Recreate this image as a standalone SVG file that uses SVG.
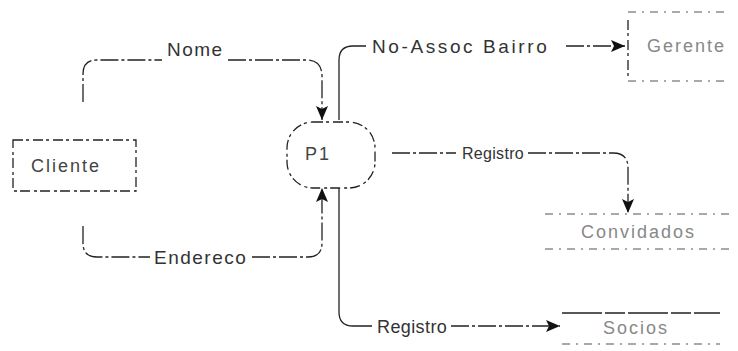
<svg xmlns="http://www.w3.org/2000/svg" width="738" height="351" viewBox="0 0 738 351">
<style>
  .bg{fill:#fff}
  .box{fill:none;stroke:#222;stroke-width:1.3;stroke-dasharray:10 3 3 4}
  .faint{fill:none;stroke:#555;stroke-width:1.2;stroke-dasharray:8 6 2 6}
  .solid{fill:none;stroke:#222;stroke-width:1.3}
  .flow{fill:none;stroke:#222;stroke-width:1.3;stroke-dasharray:18 3 3 3}
  .lbl{font-family:"Liberation Sans",Arial,sans-serif;font-size:19px;fill:#333;letter-spacing:1.5px}
  .nlbl{font-family:"Liberation Sans",Arial,sans-serif;font-size:18px;fill:#444;letter-spacing:2px}
  .pale{fill:#888}
</style>
<defs>
  <marker id="ah" viewBox="0 0 14 12" refX="14" refY="6" markerWidth="14" markerHeight="12" markerUnits="userSpaceOnUse" orient="auto">
    <path d="M0,0 L14,6 L0,12 L3,6 z" fill="#111"/>
  </marker>
</defs>
<rect class="bg" width="738" height="351"/>

<g id="connectors">
  <g id="c-nome">
    <path class="flow" d="M83,102 V74 Q83,60 97,60 H162 M228,60 H306 Q322,60 322,76 V120" marker-end="url(#ah)"/>
    <text class="lbl" x="167" y="56">Nome</text>
  </g>
  <g id="c-endereco">
    <path class="flow" d="M83,226 V243 Q83,257 97,257 H150 M252,257 H308 Q322,257 322,243 V188" marker-end="url(#ah)"/>
    <text class="lbl" x="154" y="264">Endereco</text>
  </g>
  <g id="c-noassoc">
    <path class="solid" d="M339,120 V60 Q339,46 353,46 H366"/>
    <path class="flow" d="M566,46 H625" marker-end="url(#ah)"/>
    <text class="lbl" x="372" y="53" style="letter-spacing:2.6px">No-Assoc Bairro</text>
  </g>
  <g id="c-registro1">
    <path class="flow" d="M392,153 H456 M528,153 H613 Q628,153 628,168 V213" marker-end="url(#ah)"/>
    <text class="lbl" x="462" y="159" style="font-size:16px;letter-spacing:0.3px">Registro</text>
  </g>
  <g id="c-registro2">
    <path class="solid" d="M339,188 V312 Q339,326 353,326 H372"/>
    <path class="flow" d="M451,326 H560" marker-end="url(#ah)"/>
    <text class="lbl" x="377" y="333" style="font-size:18px;letter-spacing:0.4px">Registro</text>
  </g>
</g>

<g id="cliente">
  <rect class="box" x="13" y="140" width="123" height="51"/>
  <text class="nlbl" x="31" y="172">Cliente</text>
</g>

<g id="p1">
  <rect class="box" x="287" y="122" width="88" height="66" rx="26" ry="26"/>
  <text class="nlbl" x="305" y="160">P1</text>
</g>

<g id="gerente">
  <path class="faint" d="M628,12 H730 M628,81 H730"/>
  <path class="box" d="M628,20 V78"/>
  <text class="nlbl pale" x="647" y="52">Gerente</text>
</g>

<g id="convidados">
  <path class="faint" d="M545,214 H730 M545,249 H735"/>
  <text class="nlbl pale" x="581" y="238">Convidados</text>
</g>

<g id="socios">
  <path class="solid" d="M562,313 H720" style="stroke-dasharray:40 3 20 3"/>
  <path class="faint" d="M562,344 H720"/>
  <text class="nlbl pale" x="603" y="334">Socios</text>
</g>
</svg>
